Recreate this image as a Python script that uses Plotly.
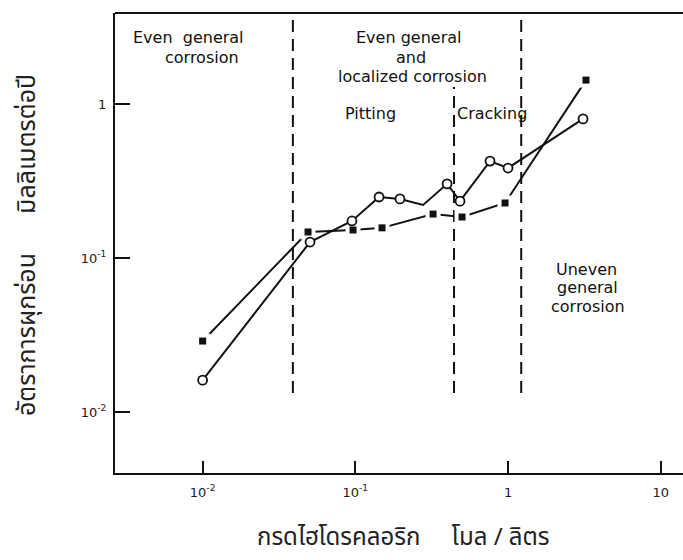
import plotly.graph_objects as go

# HCl concentration (mol/L) vs corrosion rate (mm/year)
conc_open = [0.01, 0.0505, 0.095, 0.143, 0.196, 0.278, 0.399, 0.485, 0.762, 1.0, 3.1]
rate_open = [0.0161, 0.127, 0.174, 0.249, 0.242, 0.221, 0.303, 0.234, 0.426, 0.384, 0.80]
unmarked_open = [5]  # vertex of the line drawn without a circle

conc_sq = [0.01, 0.049, 0.0966, 0.1496, 0.323, 0.50, 0.956, 3.24]
rate_sq = [0.0289, 0.1476, 0.152, 0.157, 0.193, 0.1846, 0.2277, 1.43]

# regime boundaries (concentration) and the rate span of each dashed line
bound_conc = [0.039, 0.443, 1.22]
bound_low = [0.0133, 0.0133, 0.0133]
bound_high = [3.9, 1.29, 3.9]

x_ticks = [0.01, 0.1, 1, 10]
x_ticktext = ["10<sup>-2</sup>", "10<sup>-1</sup>", "1", "10"]
y_ticks = [0.01, 0.1, 1]
y_ticktext = ["10<sup>-2</sup>", "10<sup>-1</sup>", "1"]

W, H = 683, 560
L, R, T, B = 115, 0, 13, 87
PW, PH = W - L - R, H - T - B

INK = "#111111"
TXT_FONT = "DejaVu Sans, Noto Sans, sans-serif"
THAI_FONT = "Noto Sans Thai, Loma, Garuda, Tlwg Typo, DejaVu Sans, sans-serif"

fig = go.Figure()

# dashed regime boundaries
for c, lo, hi in zip(bound_conc, bound_low, bound_high):
    fig.add_trace(go.Scatter(
        x=[c, c], y=[lo, hi], mode="lines",
        line=dict(color=INK, width=2, dash="12px,7px"),
        hoverinfo="skip", showlegend=False))

# filled-square series: line, white halo, then squares
fig.add_trace(go.Scatter(
    x=conc_sq, y=rate_sq, mode="lines",
    line=dict(color=INK, width=2), showlegend=False))
fig.add_trace(go.Scatter(
    x=conc_sq, y=rate_sq, mode="markers",
    marker=dict(symbol="square", size=15, color="white", line=dict(width=0)),
    showlegend=False, hoverinfo="skip"))
fig.add_trace(go.Scatter(
    x=conc_sq, y=rate_sq, mode="markers",
    marker=dict(symbol="square", size=7, color=INK, line=dict(width=0)),
    showlegend=False))

# open-circle series: polyline, then circles on the marked points
fig.add_trace(go.Scatter(
    x=conc_open, y=rate_open, mode="lines",
    line=dict(color=INK, width=2), showlegend=False))
mx = [c for i, c in enumerate(conc_open) if i not in unmarked_open]
my = [r for i, r in enumerate(rate_open) if i not in unmarked_open]
fig.add_trace(go.Scatter(
    x=mx, y=my, mode="markers",
    marker=dict(symbol="circle", size=9, color="#ffffff", opacity=1,
                line=dict(color=INK, width=1.8)),
    showlegend=False))


def px_to_paper(px, py):
    return (px - L) / PW, (H - B - py) / PH


labels = [
    ("Even  general", 188, 37),
    ("corrosion", 202, 57),
    ("Even general", 408, 37),
    ("and", 411, 57),
    ("localized corrosion", 412, 76),
    ("Pitting", 370, 114),
    ("Cracking", 492, 114),
    ("Uneven", 586, 269),
    ("general", 587, 287),
    ("corrosion", 588, 306),
]
for text, px, py in labels:
    ax_, ay_ = px_to_paper(px, py)
    fig.add_annotation(x=ax_, y=ay_, xref="paper", yref="paper", text=text,
                       showarrow=False, xanchor="center", yanchor="middle",
                       font=dict(family=TXT_FONT, size=16, color=INK))

# axis titles
tx, ty = px_to_paper(403, 538)
fig.add_annotation(x=tx, y=ty, xref="paper", yref="paper",
                   text="กรดไฮโดรคลอริก\u00a0\u00a0\u00a0\u00a0\u00a0โมล / ลิตร",
                   showarrow=False, xanchor="center", yanchor="middle",
                   font=dict(family=THAI_FONT, size=24, color="#222222"))
yx, yy = px_to_paper(27, 245)
fig.add_annotation(x=yx, y=yy, xref="paper", yref="paper", textangle=-90,
                   text="อัตราการผุกร่อน\u00a0\u00a0\u00a0\u00a0\u00a0\u00a0มิลลิเมตรต่อปี",
                   showarrow=False, xanchor="center", yanchor="middle",
                   font=dict(family=THAI_FONT, size=25, color="#222222"))

# top border of the frame
fig.add_shape(type="line", xref="paper", yref="paper", x0=0, x1=1, y0=1, y1=1,
              line=dict(color=INK, width=2))

fig.update_xaxes(type="log", range=[-2.574, 1.146],
                 showline=True, linecolor=INK, linewidth=2,
                 ticks="inside", ticklen=12, tickwidth=2, tickcolor=INK,
                 tickvals=x_ticks, ticktext=x_ticktext, ticklabelstandoff=6,
                 tickfont=dict(family=TXT_FONT, size=13, color="#222222"),
                 showgrid=False, zeroline=False)
fig.update_yaxes(type="log", range=[-2.396, 0.591],
                 showline=True, linecolor=INK, linewidth=2,
                 ticks="inside", ticklen=15, tickwidth=2, tickcolor=INK,
                 tickvals=y_ticks, ticktext=y_ticktext, ticklabelstandoff=4,
                 tickfont=dict(family=TXT_FONT, size=13, color="#222222"),
                 showgrid=False, zeroline=False)

fig.update_layout(width=W, height=H,
                  margin=dict(l=L, r=R, t=T, b=B),
                  paper_bgcolor="white", plot_bgcolor="white",
                  showlegend=False)

fig.write_html("out.html")
